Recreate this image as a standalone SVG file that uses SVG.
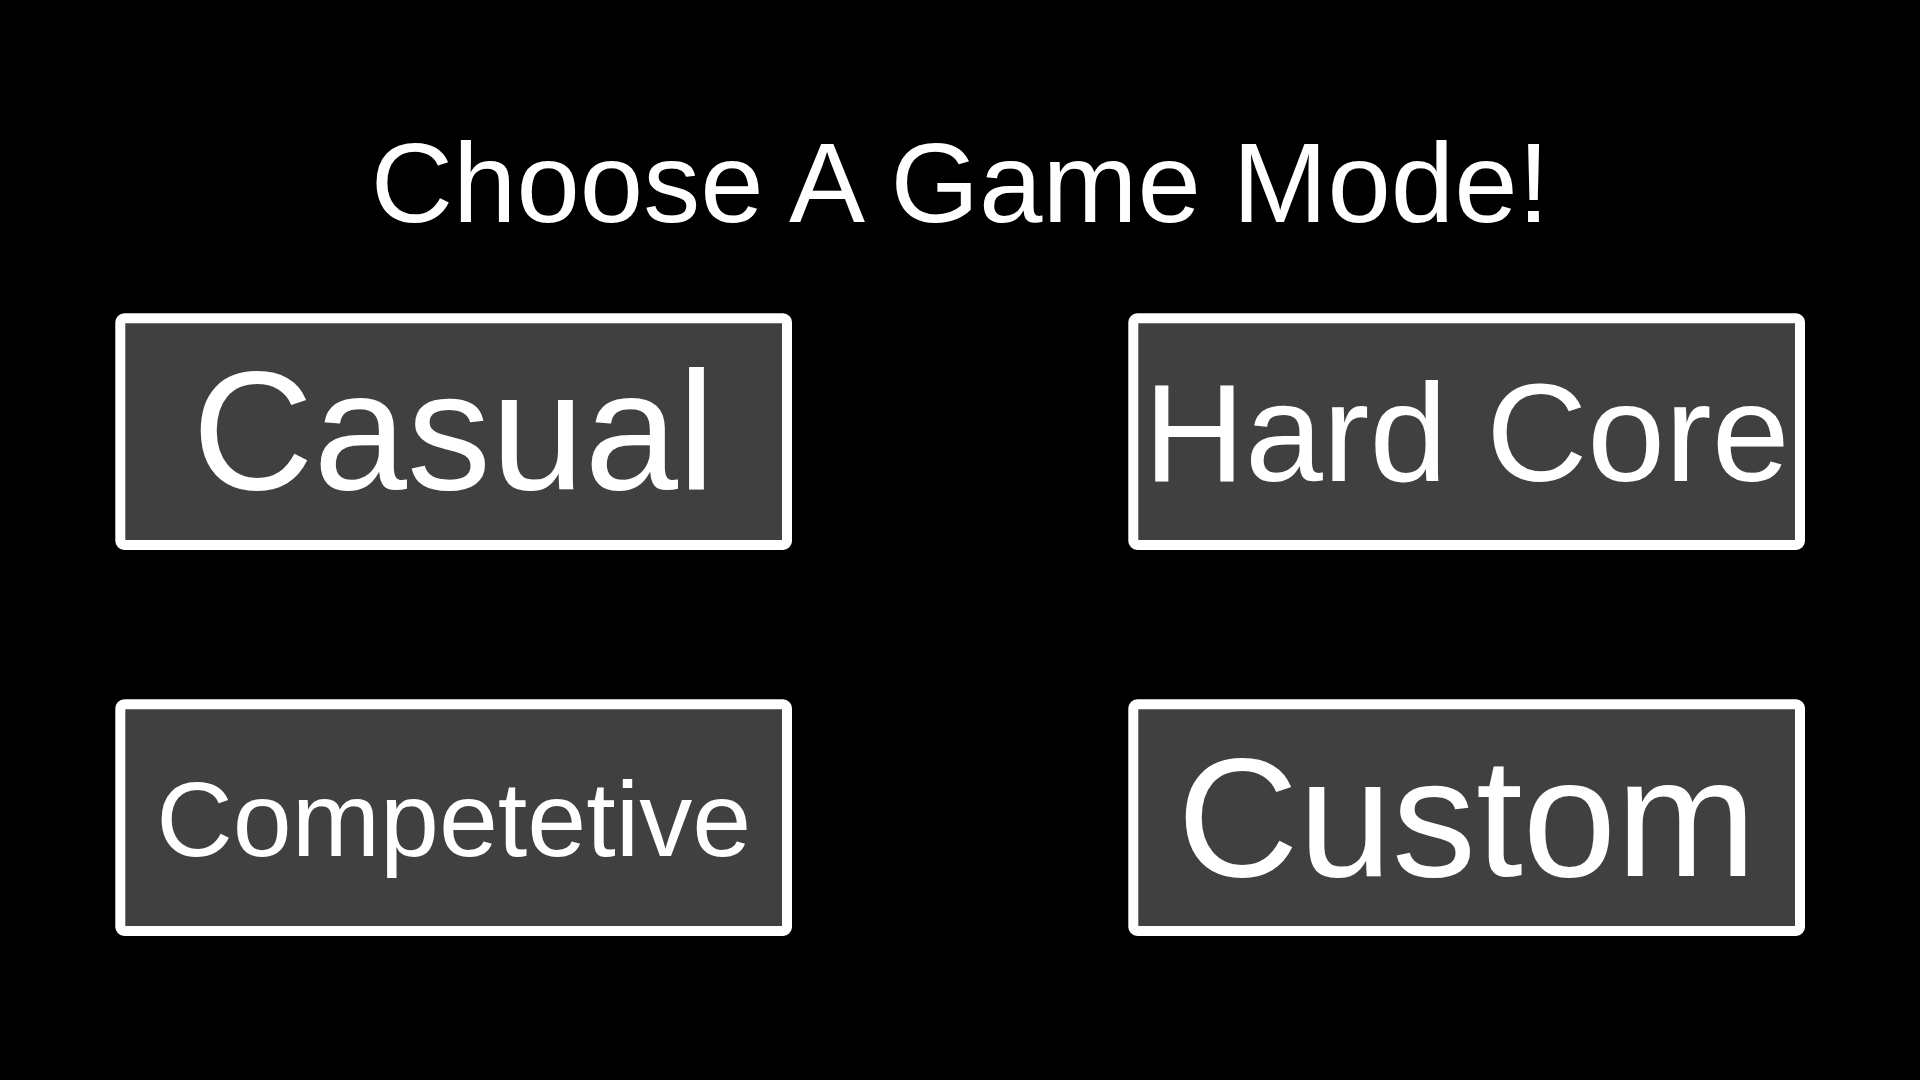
<svg xmlns="http://www.w3.org/2000/svg" width="1920" height="1080" viewBox="0 0 1920 1080">
  <style>
    .box { fill: #404040; stroke: #ffffff; stroke-width: 10; }
    .lbl { font-family: "Liberation Sans", Arial, sans-serif; fill: #ffffff; text-anchor: middle; }
  </style>
  <rect x="0" y="0" width="1920" height="1080" fill="#000000"/>
  <text id="title" class="lbl" x="960" y="222" font-size="114">Choose A Game Mode!</text>
  <g id="casual">
    <rect class="box" x="120.3" y="318.3" width="666.7" height="226.7" rx="4"/>
    <text class="lbl" x="453.7" y="489" font-size="168">Casual</text>
  </g>
  <g id="hardcore">
    <rect class="box" x="1133.3" y="318.3" width="666.7" height="226.7" rx="4"/>
    <text class="lbl" x="1466.7" y="481" font-size="140">Hard Core</text>
  </g>
  <g id="competetive">
    <rect class="box" x="120.3" y="704.3" width="666.7" height="226.7" rx="4"/>
    <text class="lbl" x="453.7" y="856" font-size="106">Competetive</text>
  </g>
  <g id="custom">
    <rect class="box" x="1133.3" y="704.3" width="666.7" height="226.7" rx="4"/>
    <text class="lbl" x="1466.7" y="876" font-size="168">Custom</text>
  </g>
  <g id="connectors"/>
</svg>
